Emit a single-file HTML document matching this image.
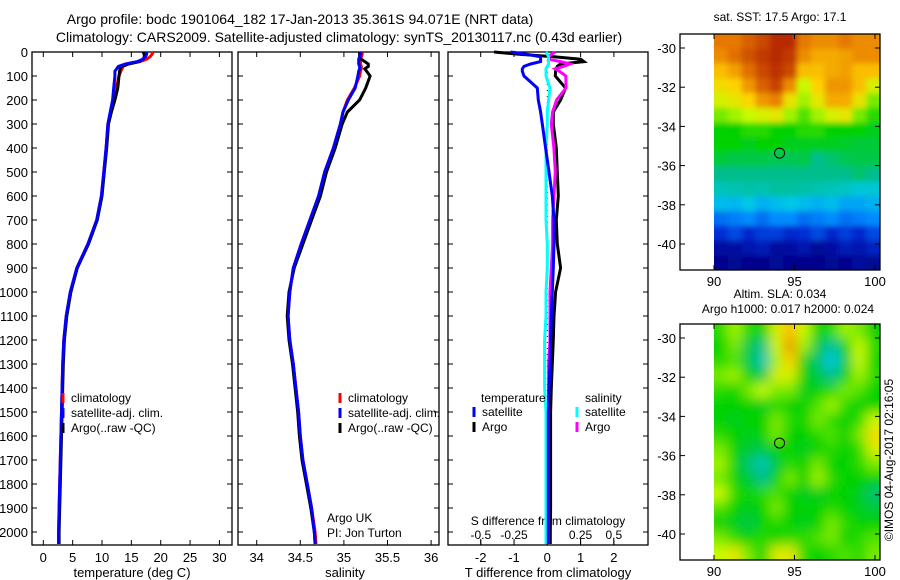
<!DOCTYPE html>
<html><head><meta charset="utf-8"><style>
body{margin:0;background:#fff}
svg{display:block;font-family:"Liberation Sans",sans-serif}
</style></head><body>
<svg id="c" width="900" height="580" xmlns="http://www.w3.org/2000/svg">
<defs>
<filter id="blurS" x="-10%" y="-10%" width="120%" height="120%"><feGaussianBlur stdDeviation="3"/></filter>
<filter id="blurL" x="-10%" y="-10%" width="120%" height="120%"><feGaussianBlur stdDeviation="6"/></filter>
</defs>
</svg>
<script>
const depths=[0,10,20,30,40,50,60,70,80,100,150,200,250,300,400,500,600,700,800,900,1000,1100,1200,1300,1400,1500,1600,1700,1800,1900,2000,2050];
const tempClim=[18.7,18.5,18.2,17.6,16.5,14.5,13.6,13.4,13.2,12.9,12.4,12.0,11.5,11.0,10.7,10.3,9.9,9.1,7.6,5.7,4.6,3.9,3.5,3.3,3.2,3.1,3.0,2.9,2.8,2.7,2.6,2.6];
const tempSat=[17.6,17.6,17.4,17.0,16.0,14.0,12.8,12.5,12.2,12.2,12.0,11.8,11.4,11.0,10.7,10.3,9.9,9.1,7.6,5.7,4.6,3.9,3.5,3.3,3.2,3.1,3.0,2.9,2.8,2.7,2.6,2.6];
const tempArgo=[17.0,17.2,17.2,17.0,16.3,14.5,13.3,13.1,13.0,12.9,12.7,12.2,11.6,11.1,10.8,10.4,10.0,9.2,7.7,5.8,4.7,4.0,3.6,3.4,3.3,3.2,3.1,3.0,2.9,2.8,2.7,2.7];
const salClim=[35.21,35.21,35.20,35.19,35.19,35.19,35.20,35.20,35.19,35.18,35.12,35.04,34.99,34.96,34.88,34.78,34.71,34.61,34.51,34.42,34.38,34.36,34.38,34.42,34.45,34.48,34.50,34.53,34.58,34.63,34.67,34.68];
const salSat=[35.20,35.19,35.18,35.17,35.17,35.17,35.18,35.18,35.17,35.16,35.13,35.05,34.99,34.96,34.88,34.78,34.71,34.61,34.51,34.42,34.38,34.36,34.38,34.42,34.45,34.48,34.50,34.53,34.58,34.63,34.66,34.67];
const salArgo=[35.18,35.18,35.18,35.20,35.24,35.28,35.28,35.24,35.26,35.30,35.25,35.18,35.04,34.98,34.90,34.80,34.73,34.63,34.53,34.43,34.37,34.35,34.37,34.41,34.44,34.47,34.49,34.52,34.57,34.62,34.66,34.67];
const tDiffSat=[-1.1,-0.6,-0.2,-0.2,-0.2,-0.5,-0.7,-0.75,-0.75,-0.7,-0.3,-0.27,-0.2,-0.15,-0.05,0.05,0.15,0.2,0.2,0.18,0.15,0.12,0.1,0.08,0.05,0.03,0.03,0.03,0.03,0.03,0.03,0.03];
const tDiffArgo=[-1.6,-0.8,0.2,1.0,1.1,0.4,0.3,0.27,0.25,0.24,0.55,0.4,0.18,0.18,0.27,0.3,0.33,0.27,0.3,0.4,0.25,0.2,0.18,0.15,0.12,0.1,0.1,0.1,0.1,0.1,0.09,0.09];
const sDiffSat=[-0.01,0.0,0.01,0.01,0.01,0.01,0.0,-0.01,-0.01,-0.01,0.02,0.01,0.0,0.0,-0.01,-0.01,-0.01,-0.01,0.0,0.0,-0.01,-0.01,-0.02,-0.02,-0.02,-0.01,-0.01,-0.01,-0.01,-0.01,-0.01,-0.01];
const sDiffArgo=[0.06,0.03,0.01,0.01,0.1,0.17,0.12,0.06,0.09,0.14,0.14,0.07,0.04,0.03,0.05,0.06,0.05,0.04,0.04,0.03,0.02,0.02,0.02,0.01,0.01,0.01,0.01,0.01,0.01,0.01,0.01,0.01];
const depthTicks=[0,100,200,300,400,500,600,700,800,900,1000,1100,1200,1300,1400,1500,1600,1700,1800,1900,2000];
const tempTicks=[0,5,10,15,20,25,30];
const salTicks=[34,34.5,35,35.5,36];
const tDiffTicks=[-2,-1,0,1,2];
const sDiffTicks=[-0.5,-0.25,0,0.25,0.5];
const latTicks=[-30,-32,-34,-36,-38,-40];
const lonTicks=[90,95,100];
const sstGrid=[
[.87,.87,.9,.93,.97,.97,.87,.85,.85,.87,.85,.85],
[.85,.88,.92,.95,.97,.95,.85,.82,.82,.83,.85,.85],
[.8,.83,.88,.93,.96,.93,.8,.8,.82,.83,.8,.8],
[.76,.78,.84,.9,.94,.85,.7,.78,.84,.84,.8,.72],
[.72,.74,.78,.84,.86,.75,.68,.74,.82,.82,.75,.66],
[.66,.68,.7,.72,.74,.68,.64,.68,.72,.74,.66,.62],
[.6,.6,.62,.62,.6,.6,.62,.62,.6,.6,.6,.58],
[.6,.6,.58,.6,.6,.58,.58,.58,.58,.57,.56,.56],
[.56,.55,.55,.55,.54,.54,.55,.5,.52,.54,.55,.55],
[.5,.5,.5,.5,.5,.5,.5,.5,.5,.5,.52,.5],
[.45,.46,.47,.46,.48,.48,.47,.46,.45,.44,.42,.42],
[.38,.37,.4,.36,.38,.4,.38,.36,.38,.34,.34,.36],
[.26,.28,.3,.26,.3,.3,.26,.28,.3,.26,.28,.3],
[.16,.2,.14,.18,.18,.14,.16,.2,.14,.18,.14,.2],
[.06,.06,.08,.1,.05,.06,.08,.04,.06,.1,.08,.12],
[.02,.03,.02,.02,.04,.02,.02,.02,.03,.02,.05,.03]];
const slaGrid=[
[.62,.68,.62,.6,.72,.8,.7,.6,.62,.68,.66,.6],
[.6,.66,.55,.5,.7,.84,.68,.55,.48,.6,.7,.62],
[.62,.64,.55,.45,.68,.78,.6,.52,.4,.55,.7,.6],
[.66,.68,.6,.55,.72,.72,.6,.55,.5,.6,.68,.62],
[.62,.6,.66,.7,.66,.66,.58,.6,.62,.66,.64,.6],
[.6,.6,.6,.58,.62,.6,.6,.64,.68,.62,.6,.6],
[.6,.58,.6,.6,.66,.62,.6,.66,.62,.6,.62,.7],
[.62,.6,.58,.6,.66,.6,.6,.62,.64,.6,.66,.76],
[.66,.6,.56,.55,.6,.6,.58,.6,.62,.6,.62,.72],
[.68,.6,.52,.45,.56,.62,.6,.66,.6,.6,.62,.66],
[.66,.6,.56,.5,.6,.66,.6,.68,.62,.6,.6,.6],
[.7,.62,.6,.62,.64,.6,.58,.58,.6,.6,.58,.52],
[.64,.6,.58,.6,.66,.6,.6,.6,.62,.6,.58,.56],
[.6,.58,.55,.6,.62,.6,.58,.6,.66,.62,.6,.6],
[.66,.62,.6,.62,.6,.62,.62,.64,.66,.6,.62,.64],
[.7,.74,.66,.6,.72,.74,.62,.6,.62,.64,.62,.66]];
const argoLon=94.071, argoLat=-35.361;

const svg=document.getElementById('c');
const defs=svg.querySelector('defs');
const NS='http://www.w3.org/2000/svg';
function el(tag,attrs,parent){const e=document.createElementNS(NS,tag);for(const k in attrs)e.setAttribute(k,attrs[k]);(parent||svg).appendChild(e);return e;}
function txt(s,x,y,size,anchor,parent){const t=el('text',{x:x,y:y,'font-size':size,'text-anchor':anchor||'start',fill:'#000'},parent);t.textContent=s;return t;}

const yD=d=>52+d*0.24;
const xT=v=>43.3+v*5.87;
const xS=v=>256.7+(v-34)*87.2;
const xTd=v=>547.3+v*33.3;
const xSd=v=>547.3+v*133;
const PB=545;

function panel(name,x0,x1){
  const g=el('g',{});
  
  
  el('rect',{x:x0,y:52,width:x1-x0,height:PB-52,fill:'none',stroke:'#000','stroke-width':1.3},g);
  depthTicks.forEach(d=>{const y=yD(d);el('line',{x1:x0,x2:x0+5,y1:y,y2:y,stroke:'#000'},g);el('line',{x1:x1-5,x2:x1,y1:y,y2:y,stroke:'#000'},g);});
  return g;
}
function xticks(g,ticks,fx,labY){ticks.forEach(v=>{const x=fx(v);el('line',{x1:x,x2:x,y1:PB-5,y2:PB,stroke:'#000'},g);el('line',{x1:x,x2:x,y1:52,y2:57,stroke:'#000'},g);const t=txt(String(v),x,labY,13,'middle',g);});}
function line(g,vals,fx,color,name){
  const pts=vals.map((v,i)=>fx(v).toFixed(1)+','+yD(depths[i]).toFixed(1)).join(' ');
  const p=el('polyline',{points:pts,fill:'none',stroke:color,'stroke-width':3,'stroke-linejoin':'miter'},g);
  
  
}
function legend(g,x,y,color,label){
  el('line',{x1:x,x2:x,y1:y-5,y2:y+5,stroke:color,'stroke-width':3},g);
  const t=txt(label,x+8,y+4,12,'start',g);
  
  
}

let t=txt('Argo profile: bodc 1901064_182 17-Jan-2013 35.361S 94.071E (NRT data)',300,24,14,'middle');

t=txt('Climatology: CARS2009. Satellite-adjusted climatology: synTS_20130117.nc (0.43d earlier)',339,42,14,'middle');


const g1=panel('temperature-panel',32,232);
depthTicks.forEach(d=>{const tt=txt(String(d),28,yD(d)+5,13,'end');});
xticks(g1,tempTicks,xT,562);
t=txt('temperature (deg C)',132,577,13,'middle',g1);
line(g1,tempClim,xT,'#f00','climatology-temp-line');
line(g1,tempArgo,xT,'#000','argo-temp-line');
line(g1,tempSat,xT,'#00f','satellite-temp-line');
legend(g1,63,398,'#f00','climatology');
legend(g1,63,413,'#00f','satellite-adj. clim.');
legend(g1,63,428,'#000','Argo(..raw -QC)');

const g2=panel('salinity-panel',238,439);
xticks(g2,salTicks,xS,562);
t=txt('salinity',345,577,13,'middle',g2);
line(g2,salClim,xS,'#f00','climatology-sal-line');
line(g2,salArgo,xS,'#000','argo-sal-line');
line(g2,salSat,xS,'#00f','satellite-sal-line');
legend(g2,340,398,'#f00','climatology');
legend(g2,340,413,'#00f','satellite-adj. clim.');
legend(g2,340,428,'#000','Argo(..raw -QC)');
t=txt('Argo UK',327,522,12,'start',g2);
t=txt('PI: Jon Turton',327,537,12,'start',g2);

const g3=panel('difference-panel',448,648);
xticks(g3,tDiffTicks,xTd,562);
sDiffTicks.forEach(v=>{const x=xSd(v);el('line',{x1:x,x2:x,y1:PB-6,y2:PB,stroke:'#000'},g3);txt(String(v),x,539,12,'middle',g3);});
t=txt('S difference from climatology',548,525,12,'middle',g3);
t=txt('T difference from climatology',548,577,13,'middle',g3);
el('line',{x1:xTd(0),x2:xTd(0),y1:60,y2:PB,stroke:'#000','stroke-width':1,'stroke-dasharray':'1,5'},g3);
line(g3,tDiffArgo,xTd,'#000','argo-temp-diff-line');
line(g3,sDiffArgo,xSd,'#f0f','argo-sal-diff-line');
line(g3,sDiffSat,xSd,'#0ff','satellite-sal-diff-line');
line(g3,tDiffSat,xTd,'#00f','satellite-temp-diff-line');
txt('temperature',481,402,12,'start',g3);
txt('salinity',585,402,12,'start',g3);
legend(g3,474,412,'#00f','satellite');
legend(g3,474,427,'#000','Argo');
legend(g3,577,412,'#0ff','satellite');
legend(g3,577,427,'#f0f','Argo');

const stops=[[0,[0,0,130]],[.15,[0,40,210]],[.3,[0,140,255]],[.4,[0,200,230]],[.5,[0,190,140]],[.6,[0,210,0]],[.7,[200,250,0]],[.78,[255,210,0]],[.87,[230,120,0]],[1,[170,20,0]]];
function cmap(v){for(let i=1;i<stops.length;i++){if(v<=stops[i][0]){const a=stops[i-1],b=stops[i];const f=(v-a[0])/(b[0]-a[0]);return 'rgb('+a[1].map((c,k)=>Math.round(c+(b[1][k]-c)*f)).join(',')+')';}}return 'rgb(170,20,0)';}

function map(name,top,grid,title1,title2,filt){
  const g=el('g',{});
  
  
  const L=680,R=880,B=top+236;
  const xL=v=>714+(v-90)*16.1;
  const yL=v=>top+14+(-30-v)*19.6;
  const rows=grid.length,cols=grid[0].length;
  const x0=xL(90),x1=R,y0=top,y1=B;
  const cw=(x1-x0)/cols,ch=(y1-y0)/rows;
  const cid='clip-'+name;
  const cp=el('clipPath',{id:cid},defs);
  el('rect',{x:x0,y:y0,width:x1-x0,height:y1-y0},cp);
  const outer=el('g',{'clip-path':'url(#'+cid+')'},g);
  const cg=el('g',{filter:'url(#'+filt+')'},outer);
  const E=20;
  grid.forEach((row,r)=>row.forEach((v,c)=>{
    let x=x0+c*cw,y=y0+r*ch,w=cw+0.6,h=ch+0.6;
    if(c===0){x-=E;w+=E;} if(c===cols-1){w+=E;}
    if(r===0){y-=E;h+=E;} if(r===rows-1){h+=E;}
    const cell=el('rect',{x:x.toFixed(2),y:y.toFixed(2),width:w.toFixed(2),height:h.toFixed(2),fill:cmap(v)},cg);
    
    
  }));
  el('rect',{x:L,y:top,width:R-L,height:B-top,fill:'none',stroke:'#000','stroke-width':1.3},g);
  latTicks.forEach(v=>{const y=yL(v);el('line',{x1:L,x2:L+5,y1:y,y2:y,stroke:'#000'},g);el('line',{x1:R-5,x2:R,y1:y,y2:y,stroke:'#000'},g);txt(String(v),676,y+5,13,'end',g);});
  lonTicks.forEach(v=>{const x=xL(v);el('line',{x1:x,x2:x,y1:B-5,y2:B,stroke:'#000'},g);el('line',{x1:x,x2:x,y1:top,y2:top+5,stroke:'#000'},g);txt(String(v),x,B+16,13,'middle',g);});
  const m=el('circle',{cx:xL(argoLon),cy:yL(argoLat),r:5,fill:'none',stroke:'#000','stroke-width':1},g);
  
  let tt=txt(title1,780,title2?top-26:top-13,12,'middle',g);
  if(title2){tt=txt(title2,788,top-11,12,'middle',g);}
}
map('sst-map',34,sstGrid,'sat. SST: 17.5 Argo: 17.1',null,'blurS');
map('sla-map',324,slaGrid,'Altim. SLA: 0.034','Argo h1000: 0.017 h2000: 0.024','blurL');
t=txt('©IMOS 04-Aug-2017 02:16:05',0,0,12,'middle');
t.setAttribute('transform','translate(893,460) rotate(-90)');

</script>
</body></html>
